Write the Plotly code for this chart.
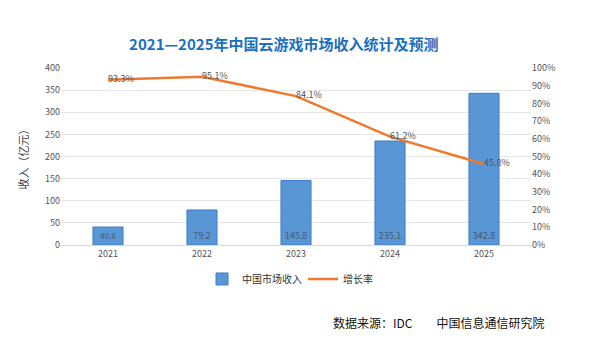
import plotly.graph_objects as go

years = ["2021", "2022", "2023", "2024", "2025"]
revenue = [40.6, 79.2, 145.8, 235.1, 342.8]
growth = [93.3, 95.1, 84.1, 61.2, 45.8]
revenue_labels = ["40.6", "79.2", "145.8", "235.1", "342.8"]
growth_labels = ["93.3%", "95.1%", "84.1%", "61.2%", "45.8%"]

FONT = "Noto Sans CJK SC, Liberation Sans, sans-serif"

fig = go.Figure()
fig.add_trace(go.Bar(
    x=years, y=revenue, name="中国市场收入",
    marker=dict(color="#5896d6", line=dict(color="#3f7fc4", width=1)),
    text=revenue_labels, textposition="inside", insidetextanchor="start",
    textfont=dict(size=9, color="#4a5a70", family=FONT),
    cliponaxis=False,
))
fig.add_trace(go.Scatter(
    x=years, y=growth, name="增长率", yaxis="y2", mode="lines+text",
    line=dict(color="#ee7a2f", width=2.5),
    text=growth_labels, textposition="middle right",
    textfont=dict(size=9, color="#555555", family=FONT),
    cliponaxis=False,
))

fig.update_layout(
    width=600, height=350,
    margin=dict(l=61, r=69, t=68, b=105),
    paper_bgcolor="white", plot_bgcolor="white",
    font=dict(family=FONT, size=9, color="#555555"),
    bargap=0.68,
    showlegend=True,
    legend=dict(orientation="h", x=0.30, y=-0.11, xanchor="left", yanchor="top",
                font=dict(size=10, color="#333333"), bgcolor="rgba(0,0,0,0)",
                itemwidth=30, tracegroupgap=0, entrywidth=56, entrywidthmode="pixels"),
    title=dict(text="<b>2021—2025年中国云游戏市场收入统计及预测</b>",
               x=0.473, xanchor="center", y=0.873, yanchor="middle",
               font=dict(size=15, color="#1a6fc0", family=FONT)),
    xaxis=dict(type="category", range=[-0.5, 4.5], showgrid=False,
               showline=True, linecolor="#d9d9d9", ticks="",
               tickfont=dict(size=9, color="#555555")),
    yaxis=dict(range=[0, 400], dtick=50, showgrid=True, gridcolor="#e6e6e6",
               zeroline=False, tickfont=dict(size=9, color="#555555"),
               title=dict(text="收入（亿元）", font=dict(size=11, color="#444444"), standoff=14)),
    yaxis2=dict(range=[0, 100], dtick=10, overlaying="y", side="right",
                showgrid=False, zeroline=False, ticksuffix="%",
                tickfont=dict(size=9, color="#555555")),
    annotations=[dict(text="数据来源：IDC　　中国信息通信研究院", xref="paper", yref="paper",
                      x=0.575, y=-0.44, xanchor="left", yanchor="middle", showarrow=False,
                      font=dict(size=12, color="#111111", family=FONT))],
)

fig.write_html("out.html")
